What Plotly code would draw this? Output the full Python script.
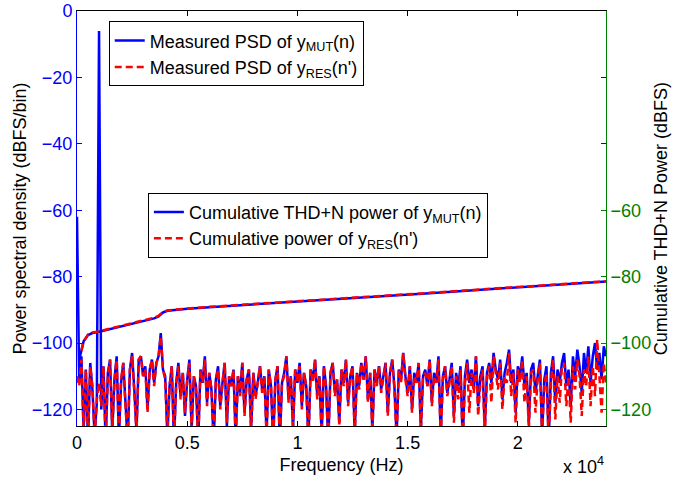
import plotly.graph_objects as go

# ---------------- data ----------------
freq_step_hz = 100
psd_mut = [
    -62, -112, -104, -126, -108, -130, -106, -114, -128, -118,
    -6, -120, -107, -130, -109, -105, -127, -111, -104, -129,
    -112, -106, -118, -130, -108, -103, -114, -127, -105, -104,
    -110, -107, -120, -108, -105, -112, -106, -104, -97, -108,
    -110, -128, -113, -107, -130, -112, -106, -116, -109, -122,
    -111, -105, -126, -110, -113, -130, -108, -112, -104, -118,
    -109, -114, -130, -111, -107, -119, -112, -106, -125, -110,
    -113, -108, -129, -110, -115, -106, -121, -111, -108, -126,
    -109, -116, -112, -107, -114, -110, -127, -108, -113, -130,
    -111, -107, -130, -112, -109, -104, -117, -110, -126, -108,
    -112, -106, -119, -109, -113, -129, -108, -111, -105, -116,
    -110, -128, -107, -113, -130, -109, -106, -115, -111, -124,
    -108, -112, -105, -118, -110, -107, -127, -109, -113, -106,
    -111, -104, -117, -109, -126, -108, -112, -107, -114, -110,
    -106, -121, -109, -105, -113, -128, -108, -111, -103, -110,
    -115, -107, -120, -109, -112, -106, -126, -110, -108, -113,
    -105, -118, -109, -112, -104, -128, -110, -107, -115, -111,
    -106, -122, -109, -113, -107, -130, -110, -105, -112, -108,
    -114, -104, -119, -110, -107, -126, -109, -106, -112, -103,
    -108, -111, -105, -117, -109, -106, -102, -112, -108, -121,
    -107, -110, -104, -113, -109, -124, -108, -106, -115, -110,
    -105, -128, -111, -107, -130, -109, -104, -118, -108, -112,
    -106, -103, -113, -108, -119, -104, -110, -102, -107, -115,
    -103, -109, -101, -112, -104, -100, -108, -103, -111, -101,
    -104,
]
psd_res = [
    -110, -113, -105, -127, -108, -129, -107, -113, -128, -117,
    -112, -119, -107, -130, -110, -105, -126, -111, -105, -128,
    -111, -106, -119, -130, -108, -104, -115, -127, -105, -104,
    -110, -108, -121, -108, -105, -113, -106, -104, -98, -108,
    -111, -127, -113, -107, -130, -112, -107, -117, -109, -121,
    -111, -106, -126, -110, -114, -130, -108, -112, -105, -119,
    -109, -114, -129, -111, -108, -120, -112, -106, -124, -110,
    -113, -108, -130, -110, -116, -106, -122, -111, -108, -127,
    -109, -117, -112, -107, -115, -110, -128, -108, -113, -129,
    -111, -107, -130, -112, -110, -104, -118, -110, -125, -108,
    -112, -107, -120, -109, -113, -130, -108, -112, -105, -117,
    -110, -127, -107, -114, -130, -109, -106, -116, -111, -125,
    -108, -113, -105, -119, -110, -107, -128, -109, -114, -106,
    -111, -104, -118, -109, -127, -108, -113, -107, -115, -110,
    -106, -122, -109, -105, -114, -129, -108, -112, -103, -111,
    -116, -107, -121, -110, -112, -106, -127, -110, -109, -113,
    -105, -119, -110, -112, -105, -129, -111, -107, -116, -112,
    -107, -124, -110, -117, -108, -130, -112, -106, -121, -109,
    -115, -104, -122, -112, -108, -128, -110, -107, -118, -104,
    -109, -114, -106, -120, -110, -112, -103, -116, -109, -124,
    -108, -112, -105, -118, -110, -126, -109, -108, -121, -111,
    -106, -127, -113, -109, -130, -112, -105, -123, -110, -118,
    -107, -106, -119, -110, -124, -107, -114, -105, -110, -122,
    -108, -113, -104, -119, -107, -116, -99, -110, -121, -106,
    -112,
]
cum_freq = [100, 200, 300, 500, 700, 1000, 1500, 2000, 2500, 3000, 3500,
            3700, 3900, 4100, 4500, 5000, 6000, 8000, 10000, 12000, 14000,
            16000, 18000, 20000, 22000, 24000]
cum_mut = [-105, -102, -99.5, -97.6, -97.0, -96.6, -95.8, -95.0, -94.2, -93.4,
           -92.6, -92.0, -90.8, -90.3, -90.0, -89.7, -89.2, -88.4, -87.5,
           -86.7, -85.8, -85.0, -84.1, -83.3, -82.4, -81.5]
cum_res = [None, -102.3, -99.6, -97.4, -96.8, -96.5, -95.6, -94.8, -94.0, -93.2,
           -92.4, -91.8, -90.7, -90.2, -89.9, -89.6, -89.1, -88.3, -87.4,
           -86.6, -85.7, -84.9, -84.0, -83.2, -82.3, -81.4]

x_tickvals = [0, 5000, 10000, 15000, 20000]
x_ticktext = ["0", "0.5", "1", "1.5", "2"]
left_ticks = [-120, -100, -80, -60, -40, -20, 0]
right_ticks = [-120, -100, -80, -60]

freqs = [i * freq_step_hz for i in range(len(psd_mut))]

BLUE = "#0000FF"
RED = "#FF0000"
GREEN = "#008000"
FONT = "Liberation Sans, Arial, sans-serif"
FS = 18

fig = go.Figure()
fig.add_trace(go.Scatter(x=freqs, y=psd_mut, mode="lines",
                         line=dict(color=BLUE, width=2.5),
                         name="Measured PSD of y<sub>MUT</sub>(n)", legend="legend"))
fig.add_trace(go.Scatter(x=freqs, y=psd_res, mode="lines",
                         line=dict(color=RED, width=2.5, dash="7px,4px"),
                         name="Measured PSD of y<sub>RES</sub>(n')", legend="legend"))
fig.add_trace(go.Scatter(x=cum_freq, y=cum_mut, mode="lines", yaxis="y2",
                         line=dict(color=BLUE, width=2.5),
                         name="Cumulative THD+N power of y<sub>MUT</sub>(n)", legend="legend2"))
fig.add_trace(go.Scatter(x=cum_freq, y=cum_res, mode="lines", yaxis="y2",
                         line=dict(color=RED, width=2.5, dash="7px,4px"),
                         name="Cumulative power of y<sub>RES</sub>(n')", legend="legend2"))

legend_common = dict(bgcolor="white", bordercolor="black", borderwidth=1,
                     font=dict(family=FONT, size=FS, color="black"),
                     xanchor="left", yanchor="top", tracegroupgap=0,
                     itemwidth=30)

fig.update_layout(
    width=692, height=480,
    margin=dict(l=77, r=86, t=11, b=54, autoexpand=False),
    paper_bgcolor="white", plot_bgcolor="white",
    font=dict(family=FONT, size=FS, color="black"),
    showlegend=True,
    legend=dict(x=0.06, y=0.975, **legend_common),
    legend2=dict(x=0.134, y=0.562, **legend_common),
    xaxis=dict(range=[0, 24000], tickvals=x_tickvals, ticktext=x_ticktext,
               ticks="inside", ticklen=5, tickcolor="black", showgrid=False,
               zeroline=False, showline=True, linecolor="black", linewidth=1,
               mirror="ticks", automargin=False,
               tickfont=dict(size=FS, color="black"),
               title=dict(text="Frequency (Hz)", font=dict(size=FS), standoff=6)),
    yaxis=dict(range=[-125, 0], tickvals=left_ticks, ticks="inside", ticklen=5,
               tickcolor=BLUE, showgrid=False, zeroline=False, showline=True,
               linecolor=BLUE, linewidth=1, mirror="ticks", automargin=False,
               tickfont=dict(size=FS, color=BLUE),
               title=dict(text="Power spectral density (dBFS/bin)",
                          font=dict(size=FS, color="black"), standoff=0)),
    yaxis2=dict(range=[-125, 0], tickvals=right_ticks, ticks="inside", ticklen=5,
                tickcolor=GREEN, overlaying="y", side="right", showgrid=False,
                zeroline=False, showline=True, linecolor=GREEN, linewidth=1,
                automargin=False, tickfont=dict(size=FS, color=GREEN),
                title=dict(text="Cumulative THD+N Power (dBFS)",
                           font=dict(size=FS, color="black"), standoff=2)),
    annotations=[dict(text="x 10<sup>4</sup>", xref="paper", yref="paper",
                      x=1.0, y=-0.094, xanchor="right", yanchor="middle",
                      showarrow=False, font=dict(size=FS, color="black"))],
)

fig.write_html("out.html")
